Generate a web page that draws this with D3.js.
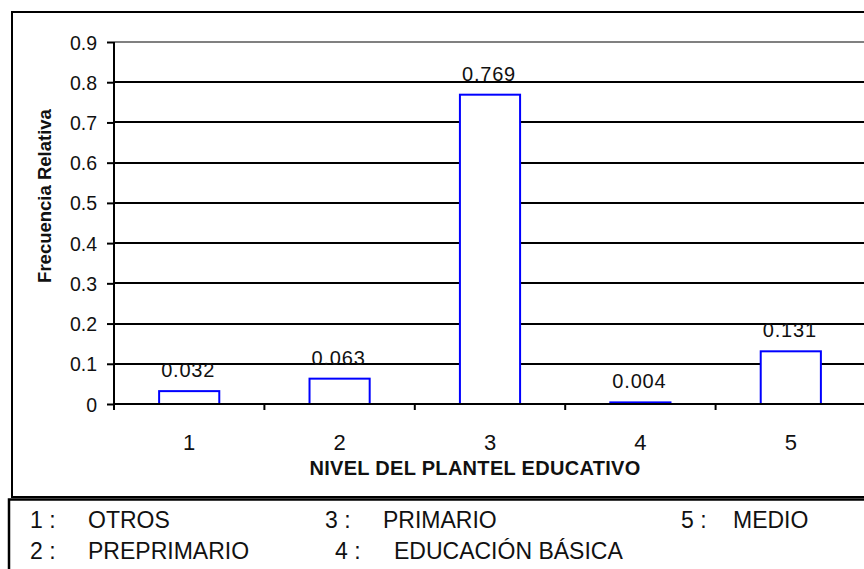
<!DOCTYPE html>
<html>
<head>
<meta charset="utf-8">
<script src="https://cdn.jsdelivr.net/npm/d3@7"></script>
<style>
  html, body { margin: 0; padding: 0; background: #fff; }
  svg { display: block; }
  text { font-family: "Liberation Sans", Arial, sans-serif; fill: #111; }
</style>
</head>
<body>
<svg id="chart" width="864" height="569"></svg>
<script>
// ---- data ----
const categories = ["1", "2", "3", "4", "5"];
const values = [0.032, 0.063, 0.769, 0.004, 0.131];
const yTicks = [0, 0.1, 0.2, 0.3, 0.4, 0.5, 0.6, 0.7, 0.8, 0.9];
const legendCodes = ["1 :", "2 :", "3 :", "4 :", "5 :"];
const legendNames = ["OTROS", "PREPRIMARIO", "PRIMARIO", "EDUCACIÓN BÁSICA", "MEDIO"];
const xTitle = "NIVEL DEL PLANTEL EDUCATIVO";
const yTitle = "Frecuencia Relativa";

// ---- layout ----
const svg = d3.select("#chart");
const plot = { left: 114, right: 866, top: 42, bottom: 404 };

const x = d3.scaleBand().domain(categories)
  .range([plot.left, plot.right])
  .paddingInner(0.6).paddingOuter(0.3);
const y = d3.scaleLinear().domain([0, 0.9]).range([plot.bottom, plot.top]);

// outer chart box
svg.append("rect").attr("x", 12).attr("y", 12).attr("width", 900).attr("height", 485)
  .attr("fill", "#fff").attr("stroke", "#000").attr("stroke-width", 2);
// legend box
svg.append("rect").attr("x", 9).attr("y", 499.5).attr("width", 900).attr("height", 100)
  .attr("fill", "#fff").attr("stroke", "#000").attr("stroke-width", 2.5);

// gridlines
svg.append("g").selectAll("line").data(yTicks.filter(d => d > 0)).join("line")
  .attr("x1", plot.left).attr("x2", plot.right)
  .attr("y1", d => Math.round(y(d))).attr("y2", d => Math.round(y(d)))
  .attr("stroke", d => d === 0.9 ? "#808080" : "#000")
  .attr("stroke-width", 2);

// y axis
const yAxis = d3.axisLeft(y).tickValues(yTicks).tickSize(7).tickPadding(10)
  .tickFormat(d => d === 0 ? "0" : d.toFixed(1));
const gy = svg.append("g").attr("transform", `translate(${plot.left},0)`).call(yAxis);
gy.select(".domain").attr("stroke", "#000").attr("stroke-width", 2).attr("d", `M0,${plot.top}V${plot.bottom}`);
gy.selectAll(".tick line").attr("stroke", "#000").attr("stroke-width", 2);
gy.selectAll(".tick text").attr("font-size", 19.5).attr("font-family", null)
  .attr("dy", "0.36em").attr("fill", "#111");

// bars
svg.append("g").selectAll("rect").data(values).join("rect")
  .attr("x", (d, i) => x(categories[i]))
  .attr("y", d => y(d))
  .attr("width", x.bandwidth())
  .attr("height", d => Math.max(0.5, y(0) - y(d)))
  .attr("fill", "#fff").attr("stroke", "#0000ff").attr("stroke-width", 2);

// x axis
const step = x.step();
const boundaries = categories.map(c => x(c) + x.bandwidth() / 2 - step / 2);
svg.append("line").attr("x1", plot.left).attr("x2", plot.right)
  .attr("y1", y(0)).attr("y2", y(0)).attr("stroke", "#000").attr("stroke-width", 2);
svg.append("g").selectAll("line").data(boundaries).join("line")
  .attr("x1", d => d).attr("x2", d => d)
  .attr("y1", y(0)).attr("y2", y(0) + 6)
  .attr("stroke", "#000").attr("stroke-width", 2);
svg.append("g").selectAll("text").data(categories).join("text")
  .attr("x", d => x(d) + x.bandwidth() / 2)
  .attr("y", 450)
  .attr("text-anchor", "middle")
  .attr("font-size", 22)
  .text(d => d);

// value labels
svg.append("g").selectAll("text").data(values).join("text")
  .attr("x", (d, i) => x(categories[i]) + x.bandwidth() / 2 - 1)
  .attr("y", d => y(d) - 14)
  .attr("text-anchor", "middle")
  .attr("font-size", 20).attr("letter-spacing", 0.8)
  .text(d => String(d));

// axis titles
svg.append("text").attr("x", 475).attr("y", 475).attr("text-anchor", "middle")
  .attr("font-size", 20).attr("font-weight", "bold").attr("letter-spacing", 0.3)
  .attr("fill", "#000")
  .text(xTitle);
svg.append("text").attr("transform", "translate(51,196) rotate(-90)")
  .attr("text-anchor", "middle")
  .attr("font-size", 18.5).attr("font-weight", "bold").attr("fill", "#000")
  .text(yTitle);

// legend
const legendPos = [
  { cx: 30, nx: 88, y: 528 },
  { cx: 30, nx: 88, y: 559 },
  { cx: 325, nx: 383, y: 528 },
  { cx: 335, nx: 394, y: 559 },
  { cx: 681, nx: 733, y: 528 }
];
const lg = svg.append("g");
legendCodes.forEach((c, i) => {
  const p = legendPos[i];
  lg.append("text").attr("x", p.cx).attr("y", p.y).attr("font-size", 23).text(c);
  lg.append("text").attr("x", p.nx).attr("y", p.y).attr("font-size", 23).text(legendNames[i]);
});
</script>
</body>
</html>
